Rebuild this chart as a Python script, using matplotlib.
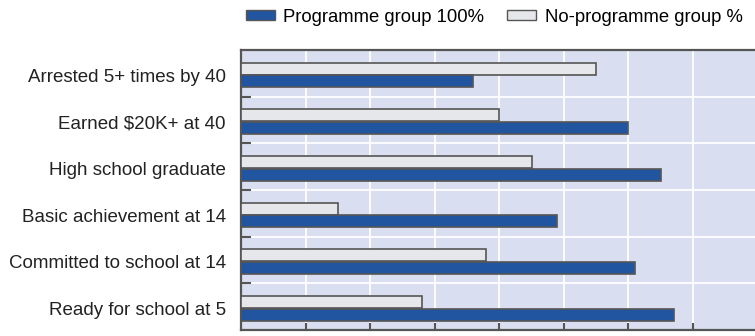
import matplotlib
matplotlib.use("Agg")
import matplotlib.pyplot as plt
from matplotlib.patches import Patch
import numpy as np

plt.rcParams['font.family'] = ['Liberation Sans', 'DejaVu Sans']

categories = [
    "Arrested 5+ times by 40",
    "Earned $20K+ at 40",
    "High school graduate",
    "Basic achievement at 14",
    "Committed to school at 14",
    "Ready for school at 5",
]
programme = [36, 60, 65, 49, 61, 67]
no_programme = [55, 40, 45, 15, 38, 28]
series_labels = ["Programme group 100%", "No-programme group %"]

blue = "#22559f"
light = "#e6e7ea"
edge = "#555555"
bg = "#d9dff0"

fig = plt.figure(figsize=(7.55, 3.36), dpi=100)
ax = fig.add_axes([241 / 755, 1 - 330 / 336, 1 - 241 / 755, (330 - 50) / 336])
ax.set_facecolor(bg)

idx = np.arange(len(categories))
h = 0.26
ax.barh(idx + 0.40, no_programme, height=h, color=light, edgecolor=edge, linewidth=1.2, zorder=3)
ax.barh(idx + 0.67, programme, height=h, color=blue, edgecolor=edge, linewidth=1.2, zorder=3)

ax.set_xlim(0, 79.6)
ax.set_ylim(len(categories), 0)

ax.set_yticks(idx + 0.54)
ax.set_yticklabels(categories, fontsize=13.5, color="#222222")
ax.tick_params(axis='y', which='major', length=0, pad=11)
ax.set_yticks(np.arange(1, len(categories)), minor=True)
ax.tick_params(axis='y', which='minor', direction='in', length=7, width=1.5, color=edge)

ax.set_xticks(np.arange(10, 80, 10))
ax.tick_params(axis='x', which='major', direction='in', length=5, width=1.5, color=edge, labelbottom=False)

for x in np.arange(10, 80, 10):
    ax.axvline(x, color="white", lw=1.3, zorder=1)
for y in np.arange(1, len(categories)):
    ax.axhline(y, color="white", lw=1.3, zorder=1)

for s in ["left", "top", "bottom"]:
    ax.spines[s].set_color(edge)
    ax.spines[s].set_linewidth(1.6)
ax.spines["right"].set_visible(False)

handles = [
    Patch(facecolor=blue, edgecolor=edge, linewidth=1.0),
    Patch(facecolor=light, edgecolor=edge, linewidth=1.0),
]
fig.legend(handles, series_labels, loc="center", bbox_to_anchor=(494 / 755, 1 - 17 / 336),
           ncol=2, frameon=False, fontsize=13.3, handlelength=1.6, handleheight=0.45,
           handletextpad=0.45, columnspacing=1.2, borderaxespad=0, borderpad=0)

fig.savefig("out.png", dpi=100)
